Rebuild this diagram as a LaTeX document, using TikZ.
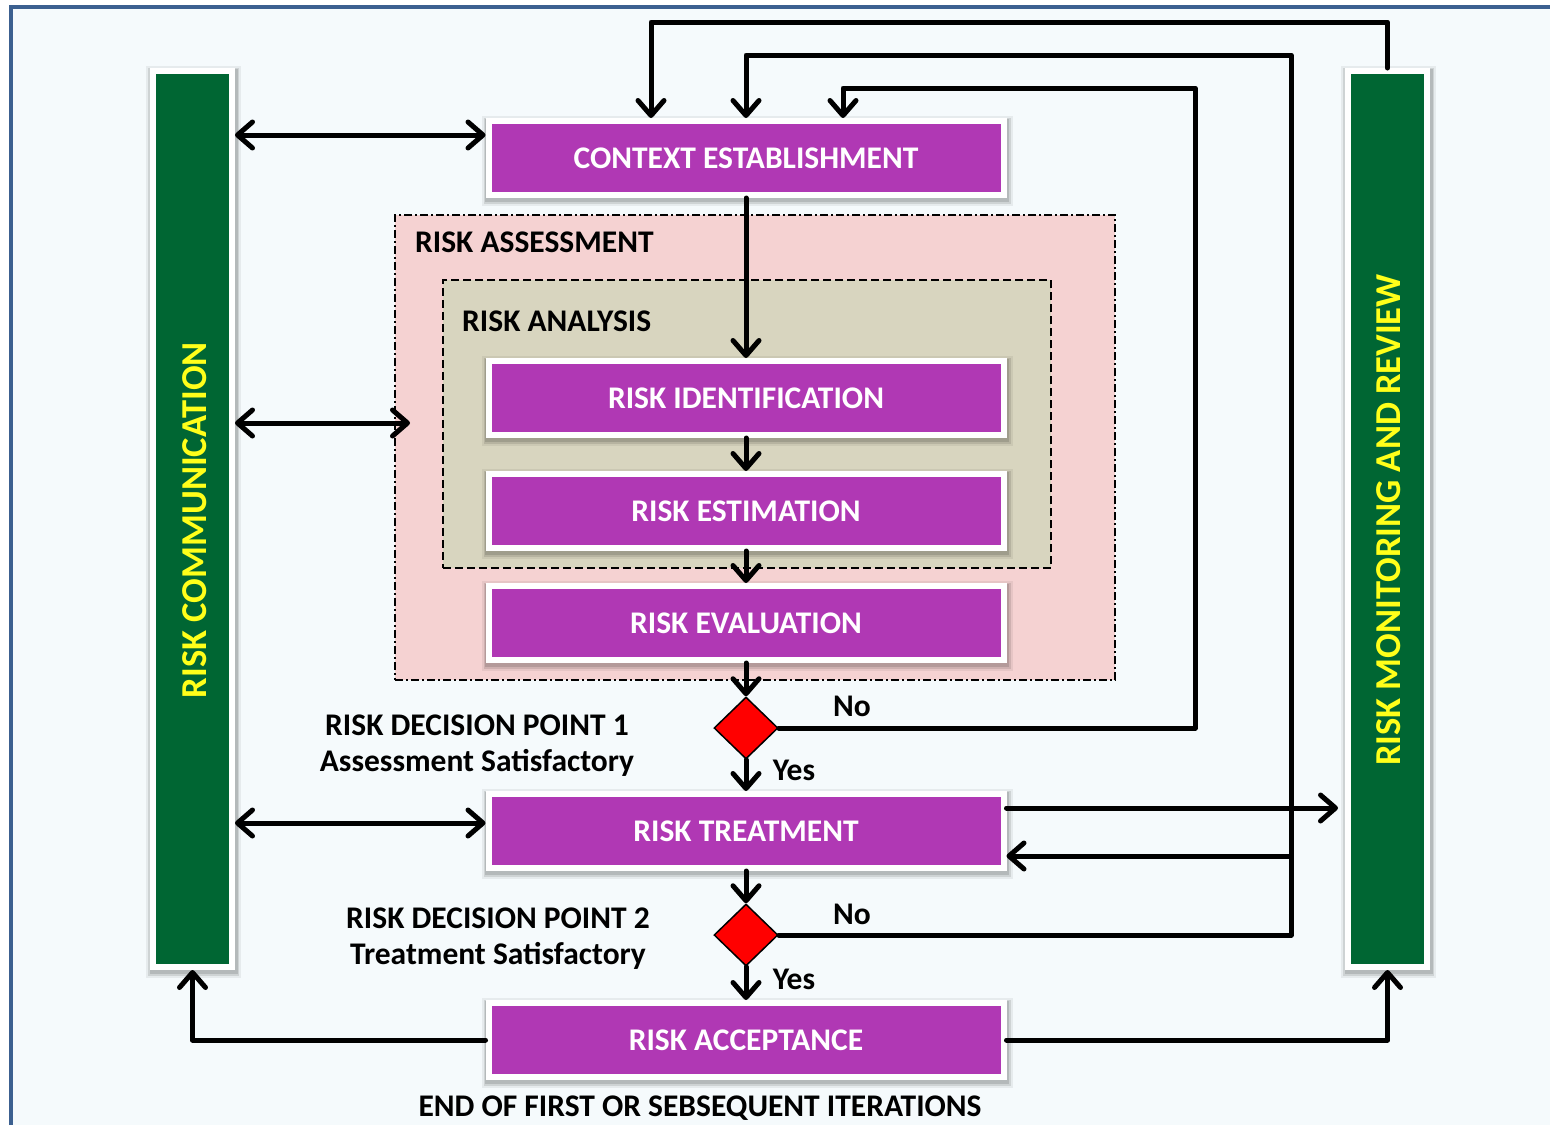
\documentclass[tikz,border=0pt]{standalone}
\usepackage{fontspec}
\setmainfont{Carlito}
\usetikzlibrary{arrows.meta,shapes.geometric,calc}
\definecolor{bgc}{HTML}{F5FAFC}
\definecolor{framec}{HTML}{3C6090}
\definecolor{purp}{HTML}{B038B4}
\definecolor{grn}{HTML}{006633}
\definecolor{pinkc}{HTML}{F5D2D2}
\definecolor{olivec}{HTML}{D8D5BF}
\definecolor{yel}{HTML}{FFFF1A}
\begin{document}
\begin{tikzpicture}[x=1pt,y=-1pt,
  mainfont/.style={font=\fontsize{31.5}{36}\selectfont\bfseries},
  softshadow/.style={
    preaction={draw=black,opacity=.06,line width=16pt,transform canvas={xshift=1pt,yshift=-3pt}},
    preaction={draw=black,opacity=.10,line width=12pt,transform canvas={xshift=1pt,yshift=-3pt}},
    preaction={draw=black,opacity=.12,line width=9pt,transform canvas={xshift=1pt,yshift=-2pt}}},
  box/.style={softshadow,draw=white,line width=6pt,fill=purp,minimum width=515pt,minimum height=74pt,
    inner sep=0pt,text=white,mainfont},
  bar/.style={softshadow,draw=white,line width=6pt,fill=grn,minimum width=79pt,minimum height=896pt},
  dec/.style={diamond,draw=black,line width=1.5pt,fill=red,minimum width=64pt,minimum height=62pt,inner sep=0pt,aspect=1},
  lbl/.style={mainfont,text=black,inner sep=0pt},
  bartext/.style={font=\fontsize{36.5}{40}\selectfont\bfseries,text=yel,rotate=90,inner sep=0pt},
  conn/.style={line width=5pt,line join=round,line cap=round},
  arr/.style={conn,-{Straight Barb[length=15pt,width=26pt,round]}},
  darr/.style={conn,{Straight Barb[length=15pt,width=26pt,round]}-{Straight Barb[length=15pt,width=26pt,round]}}
]
\useasboundingbox (0,0) rectangle (1550,1125);
\fill[white] (0,0) rectangle (1550,1125);
\fill[bgc] (11,7) rectangle (1550,1125);
\draw[framec,line width=4pt] (11,1125) -- (11,7) -- (1550,7);

% regions
\node[draw=black,line width=1.5pt,dash pattern=on 8pt off 3pt on 2pt off 3pt,fill=pinkc,
  minimum width=720pt,minimum height=465pt,inner sep=0pt] (assess) at (755,447.5) {};
\node[draw=black,line width=1.5pt,dash pattern=on 8pt off 4pt,fill=olivec,
  minimum width=608pt,minimum height=288pt,inner sep=0pt] (analysis) at (747,424) {};
\node[lbl,anchor=west] (assesslbl) at (415,242) {RISK ASSESSMENT};
\node[lbl,anchor=west] (analysislbl) at (462,321) {RISK ANALYSIS};

% bars
\node[bar] (comm) at (192.5,519) {};
\node[bartext] (commtext) at (195,520) {RISK COMMUNICATION};
\node[bar] (mon) at (1387.5,519) {};
\node[bartext] (montext) at (1389,520) {RISK MONITORING AND REVIEW};

% boxes
\node[box] (ctx) at (746,158) {CONTEXT ESTABLISHMENT};
\node[box] (rid) at (746,398) {RISK IDENTIFICATION};
\node[box] (rest) at (746,511) {RISK ESTIMATION};
\node[box] (reval) at (746,623) {RISK EVALUATION};
\node[box] (treat) at (746,831) {RISK TREATMENT};
\node[box] (acc) at (746,1040) {RISK ACCEPTANCE};

% decisions
\node[dec] (d1) at (746,728) {};
\node[dec] (d2) at (746,935) {};

% labels
\node[lbl] (no1) at (852,706) {No};
\node[lbl] (yes1) at (794,770) {Yes};
\node[lbl] (no2) at (852,914) {No};
\node[lbl] (yes2) at (794,979) {Yes};
\node[lbl,align=center] (dp1) at (477,746) {RISK DECISION POINT 1\\Assessment Satisfactory};
\node[lbl,align=center] (dp2) at (498,938.5) {RISK DECISION POINT 2\\Treatment Satisfactory};
\node[lbl] (endlbl) at (700,1108) {END OF FIRST OR SEBSEQUENT ITERATIONS};

% coordinates
\coordinate (c1) at (1195,88);
\coordinate (c2) at (1291,55);
\coordinate (c3) at (1291,856);
\coordinate (c4) at (651,22);
\coordinate (ra) at (410,423);

% main flow
\draw[arr] (ctx.south) -- (rid.north);
\draw[arr] (rid.south) -- (rest.north);
\draw[arr] (rest.south) -- (reval.north);
\draw[arr] (reval.south) -- (d1.north);
\draw[arr] (d1.south) -- (treat.north);
\draw[arr] (treat.south) -- (d2.north);
\draw[arr] (d2.south) -- (acc.north);

% feedback loops
\draw[arr] (d1.east) -| (c1) -| ([xshift=97pt]ctx.north);
\draw[arr] (d2.east) -| (c2) -| (ctx.north);
\draw[arr] (c3) -- (treat.east |- c3);
\draw[arr] (mon.north) |- (c4) -- ([xshift=-95pt]ctx.north);
\draw[arr] ([yshift=23pt]treat.east) -- ([yshift=23pt,xshift=-7pt]treat.east -| mon.west);
\draw[arr] (acc.east) -| (mon.south);
\draw[arr] (acc.west) -| (comm.south);

% communication
\draw[darr] ([yshift=23pt]ctx.west -| comm.east) -- ([yshift=23pt]ctx.west);
\draw[darr] (comm.east |- ra) -- (ra);
\draw[darr] ([yshift=8pt]treat.west -| comm.east) -- ([yshift=8pt]treat.west);
\end{tikzpicture}
\end{document}
